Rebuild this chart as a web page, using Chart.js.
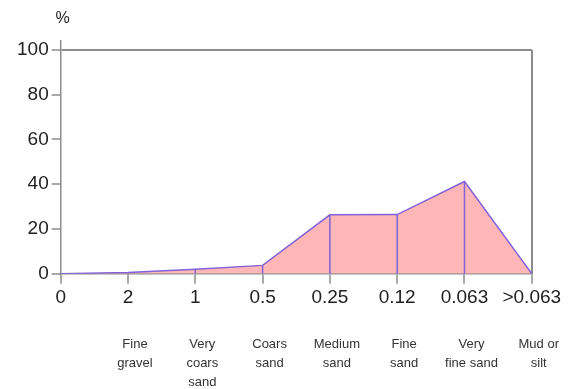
<!DOCTYPE html>
<html>
<head>
<meta charset="utf-8">
<script src="https://cdn.jsdelivr.net/npm/chart.js@4/dist/chart.umd.min.js"></script>
<style>
  html, body { margin: 0; padding: 0; background: #fff; }
  #wrap { width: 575px; height: 389px; }
</style>
</head>
<body>
<div id="wrap"><canvas id="grainChart"></canvas></div>
<script>
// Sieve sizes (mm) along the bottom, and the share retained at each size
const sieveSizes = ['0', '2', '1', '0.5', '0.25', '0.12', '0.063', '>0.063'];
const percentRetained = [0, 0.5, 2, 3.7, 26.3, 26.4, 41.2, 0];
const fractionNames = [
  '',
  ['Fine', 'gravel'],
  ['Very', 'coars', 'sand'],
  ['Coars', 'sand'],
  ['Medium', 'sand'],
  ['Fine', 'sand'],
  ['Very', 'fine sand'],
  ['Mud or', 'silt']
];
const yTicks = [0, 20, 40, 60, 80, 100];

const AXIS_GREY = '#8c8c8c';
const LINE_COLOR = 'rgb(128, 98, 218)';
const FILL_COLOR = 'rgb(255, 182, 182)';

// drop a vertical line from every inner point down to the x axis
const dropLines = {
  id: 'dropLines',
  afterDatasetsDraw(chart) {
    const meta = chart.getDatasetMeta(0);
    const y0 = chart.scales.y.getPixelForValue(0);
    const ctx = chart.ctx;
    ctx.save();
    ctx.strokeStyle = LINE_COLOR;
    ctx.lineWidth = 1.5;
    meta.data.forEach((pt, i) => {
      if (i === 0 || i === meta.data.length - 1) return;
      ctx.beginPath();
      ctx.moveTo(pt.x, pt.y);
      ctx.lineTo(pt.x, y0);
      ctx.stroke();
    });
    ctx.restore();
  }
};

// unit sign above the value axis, plus the short axis stub over 100
const unitLabel = {
  id: 'unitLabel',
  afterDraw(chart) {
    const ctx = chart.ctx;
    const left = chart.chartArea.left;
    ctx.save();
    ctx.strokeStyle = AXIS_GREY;
    ctx.lineWidth = 1.5;
    ctx.beginPath();
    ctx.moveTo(left, chart.chartArea.top);
    ctx.lineTo(left, chart.chartArea.top - 10);
    ctx.stroke();
    ctx.fillStyle = '#222';
    ctx.font = '16px "Liberation Sans", Arial, sans-serif';
    ctx.textAlign = 'center';
    ctx.textBaseline = 'middle';
    ctx.fillText('%', left + 2, 19);
    ctx.restore();
  }
};

const ctx = document.getElementById('grainChart').getContext('2d');
new Chart(ctx, {
  type: 'line',
  data: {
    labels: sieveSizes,
    datasets: [{
      data: percentRetained,
      borderColor: LINE_COLOR,
      borderWidth: 1.5,
      backgroundColor: FILL_COLOR,
      fill: 'origin',
      tension: 0,
      pointRadius: 0
    }]
  },
  options: {
    responsive: true,
    maintainAspectRatio: false,
    animation: false,
    layout: { padding: { left: 14, right: 22, top: 50, bottom: -26 } },
    plugins: {
      legend: { display: false },
      tooltip: { enabled: false }
    },
    scales: {
      x: {
        type: 'category',
        position: 'bottom',
        offset: false,
        border: { display: true, color: AXIS_GREY, width: 1.5 },
        grid: {
          drawOnChartArea: true,
          drawTicks: true,
          tickLength: 10,
          tickWidth: 1.5,
          tickColor: AXIS_GREY,
          lineWidth: 2,
          color: (c) => c.index === sieveSizes.length - 1 ? AXIS_GREY : 'rgba(0,0,0,0)'
        },
        ticks: {
          color: '#222',
          padding: 3,
          maxRotation: 0,
          autoSkip: false,
          font: { family: '"Liberation Sans", Arial, sans-serif', size: 19 }
        }
      },
      names: {
        type: 'category',
        position: 'bottom',
        labels: fractionNames,
        offset: false,
        border: { display: false },
        grid: { display: false, drawTicks: false },
        ticks: {
          color: '#333',
          padding: 23,
          labelOffset: 7,
          maxRotation: 0,
          autoSkip: false,
          font: { family: '"Liberation Sans", Arial, sans-serif', size: 13, lineHeight: 1.45 }
        }
      },
      y: {
        min: 0,
        max: 100,
        border: { display: true, color: AXIS_GREY, width: 1.5 },
        afterBuildTicks: (axis) => { axis.ticks = yTicks.map(v => ({ value: v })); },
        grid: {
          drawOnChartArea: true,
          drawTicks: true,
          tickLength: 9,
          tickWidth: 1.5,
          tickColor: AXIS_GREY,
          lineWidth: 2,
          color: (c) => c.tick && c.tick.value === 100 ? AXIS_GREY : 'rgba(0,0,0,0)'
        },
        ticks: {
          color: '#222',
          padding: 3,
          font: { family: '"Liberation Sans", Arial, sans-serif', size: 19 }
        }
      }
    }
  },
  plugins: [dropLines, unitLabel]
});
</script>
</body>
</html>
